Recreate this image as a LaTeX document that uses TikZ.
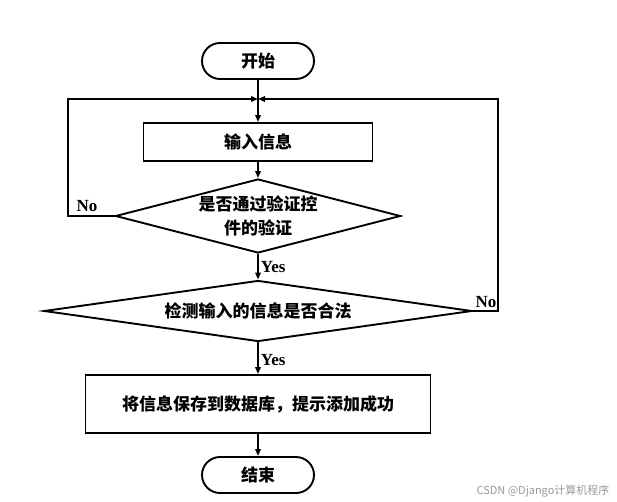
\documentclass[tikz,border=0pt]{standalone}
\usepackage{fontspec}
\setmainfont{Liberation Serif}
\newfontfamily\cjk{Noto Sans CJK SC}
\usetikzlibrary{shapes.geometric,arrows.meta}
\begin{document}
\begin{tikzpicture}[x=1pt,y=-1pt,
  line width=1.9pt,
  every node/.style={font=\cjk\bfseries\fontsize{17}{23.5}\selectfont},
  term/.style={draw,rectangle,rounded corners=18pt,minimum width=112pt,minimum height=36pt,inner sep=0pt},
  proc/.style={draw,rectangle,inner sep=0pt},
  dec/.style={draw,diamond,inner sep=0pt},
  yn/.style={font=\rmfamily\bfseries\fontsize{17}{17}\selectfont,inner sep=1pt},
  arr/.style={-{Triangle[length=7pt,width=5.5pt]}}]
\useasboundingbox (0,0) rectangle (617,502);
\node[term] (start) at (258,61) {开始};
\node[proc,minimum width=229pt,minimum height=38pt] (box1) at (258,142) {输入信息};
\node[dec,minimum width=285pt,minimum height=74pt,
  label={[align=center]center:是否通过验证控\\件的验证}] (d1) at (258,216) {};
\node[dec,minimum width=428pt,minimum height=61pt,
  label={center:检测输入的信息是否合法}] (d2) at (258,311) {};
\node[proc,minimum width=345pt,minimum height=58pt] (box2) at (258,404) {将信息保存到数据库，提示添加成功};
\node[term] (end) at (258,475) {结束};
\coordinate (j) at (258,99);
\coordinate (lc) at (68,99);
\coordinate (rc) at (498,99);
\draw[arr] (start) -- (box1);
\draw[arr] (box1) -- (d1);
\draw[arr] (d1) -- node[yn,right,xshift=1pt]{Yes} (d2);
\draw[arr] (d2) -- node[yn,right,xshift=1pt,yshift=-2pt]{Yes} (box2);
\draw[arr] (box2) -- (end);
\draw[arr] (d1.west) -| (lc) -- (j);
\draw[arr] (d2.east) -| (rc) -- (j);
\node[yn] (no1) at (87,206) {No};
\node[yn] (no2) at (486,302) {No};
\node[font=\cjk\fontsize{11}{12}\selectfont,text=black!40] (wm) at (543,491) {CSDN @Django计算机程序};
\end{tikzpicture}
\end{document}
